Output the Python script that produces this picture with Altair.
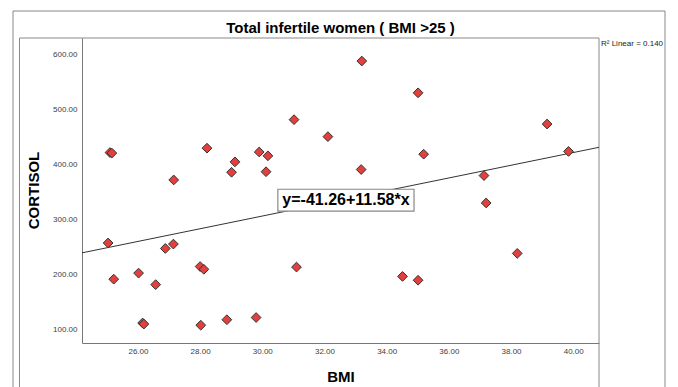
import altair as alt
import pandas as pd

# ---- data ----
bmi = [25.10, 25.16, 27.15, 28.22, 29.01, 29.12, 29.90, 30.18, 30.12, 31.02,
       32.11, 33.20, 35.01, 35.19, 33.18, 39.16, 39.85, 37.13, 37.20, 25.04,
       25.22, 26.02, 26.57, 26.88, 27.14, 28.00, 28.12, 26.15, 26.19, 28.02,
       28.86, 29.80, 31.10, 38.20, 34.51, 35.01]
cortisol = [422, 421, 372, 430, 386, 405, 423, 416, 387, 482,
            451, 589, 531, 419, 391, 474, 424, 380, 330, 257,
            191, 202, 181, 247, 255, 214, 209, 111, 109, 107,
            117, 121, 213, 238, 196, 189]

x_ticks = [26, 28, 30, 32, 34, 36, 38, 40]
y_ticks = [100, 200, 300, 400, 500, 600]
x_domain = [24.2, 40.83]
y_domain = [74.5, 631]

intercept = -41.26
slope = 11.58
r2_label = "R\u00b2 Linear = 0.140"
eq_label = "y=-41.26+11.58*x"
eq_pos = {"x": 32.69, "y": 335, "x1": 30.50, "x2": 34.88, "y1": 315, "y2": 355}

FONT = "Liberation Sans"
GRAY = "#888888"

df = pd.DataFrame({"BMI": bmi, "CORTISOL": cortisol})
reg = pd.DataFrame({"BMI": x_domain,
                    "CORTISOL": [intercept + slope * v for v in x_domain]})

xs = alt.Scale(domain=x_domain, nice=False, zero=False)
ys = alt.Scale(domain=y_domain, nice=False, zero=False)

x_axis = alt.Axis(values=x_ticks, format=".2f", title="BMI", grid=False, ticks=False,
                  labelFont=FONT, labelFontSize=8, labelColor="#404040", labelPadding=4,
                  domainColor="#777777", titleFont=FONT, titleFontSize=15,
                  titleFontWeight="bold", titleColor="#000000",
                  titleY=33, titleBaseline="middle")
y_axis = alt.Axis(values=y_ticks, format=".2f", title="CORTISOL", grid=False, ticks=False,
                  labelFont=FONT, labelFontSize=8, labelColor="#404040", labelPadding=5,
                  domainColor="#777777", titleFont=FONT, titleFontSize=15,
                  titleFontWeight="bold", titleColor="#000000",
                  titleX=-49, titleY=152, titleAngle=270, titleAlign="center",
                  titleBaseline="middle")

points = alt.Chart(df).mark_point(
    shape="diamond", filled=True, size=95, fill="#E23F3F", stroke="#333333",
    strokeWidth=1, opacity=1
).encode(
    x=alt.X("BMI:Q", scale=xs, axis=x_axis),
    y=alt.Y("CORTISOL:Q", scale=ys, axis=y_axis),
)

line = alt.Chart(reg).mark_line(color="#333333", strokeWidth=1).encode(
    x=alt.X("BMI:Q", scale=xs), y=alt.Y("CORTISOL:Q", scale=ys)
)

eq_df = pd.DataFrame([eq_pos])
eq_box = alt.Chart(eq_df).mark_rect(fill="white", stroke=GRAY, strokeWidth=1.2).encode(
    x=alt.X("x1:Q", scale=xs), x2="x2:Q",
    y=alt.Y("y1:Q", scale=ys), y2="y2:Q"
)
eq_text = alt.Chart(eq_df).mark_text(
    text=eq_label, font=FONT, fontSize=16, fontWeight="bold", color="#000000",
    align="center", baseline="middle"
).encode(x=alt.X("x:Q", scale=xs), y=alt.Y("y:Q", scale=ys))

one = alt.Data(values=[{}])


def rule(x, x2, y, y2, color=GRAY):
    return alt.Chart(one).mark_rule(color=color, strokeWidth=1).encode(
        x=alt.value(x), x2=alt.value(x2), y=alt.value(y), y2=alt.value(y2)
    )


frames = [
    rule(-69, 583, -27, -27),     # outer top
    rule(-69, -69, -27, 349),     # outer left
    rule(583, 583, -27, 349),     # outer right
    rule(-62.5, 517, 0, 0),       # inner top
    rule(-62.5, -62.5, 0, 349),   # inner left
    rule(517, 517, 0, 349),       # inner right
]

r2_text = alt.Chart(one).mark_text(
    text=r2_label, font=FONT, fontSize=8, color="#222222", align="left", baseline="middle"
).encode(x=alt.value(519), y=alt.value(6))

chart = alt.layer(
    *frames, line, points, eq_box, eq_text, r2_text
).properties(
    width=517, height=305,
    title=alt.TitleParams("Total infertile women ( BMI >25 )", font=FONT, fontSize=15,
                          fontWeight="bold", color="#000000", anchor="middle",
                          frame="group", baseline="alphabetic", offset=-37),
    autosize=alt.AutoSizeParams(type="none"),
    padding={"left": 74, "top": 30, "right": 70, "bottom": 44},
).configure_view(stroke=None)

chart.save("out.html", embed_options={"renderer": "svg", "actions": False})
